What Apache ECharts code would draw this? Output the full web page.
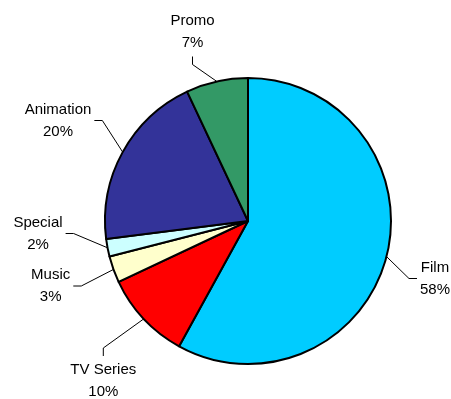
<!DOCTYPE html>
<html>
<head>
<meta charset="utf-8">
<script src="https://cdn.jsdelivr.net/npm/echarts@6/dist/echarts.min.js"></script>
<style>
  html, body { margin: 0; padding: 0; background: #ffffff; }
  #chart { width: 451px; height: 399px; }
</style>
</head>
<body>
<div id="chart"></div>
<script>
// Share of output by category (percent), clockwise from 12 o'clock
const categories = ['Film', 'TV Series', 'Music', 'Special', 'Animation', 'Promo'];
const shares = [58, 10, 3, 2, 20, 7];
const sliceColors = ['#00CCFF', '#FF0000', '#FFFFCC', '#CCFFFF', '#333399', '#339966'];

// Centre of each two-line label block and the side its leader line attaches to
const labelPlacement = {
  'Film':      { x: 435,   y: 278.5, side: 'left' },
  'TV Series': { x: 103.3, y: 381,   side: 'top' },
  'Music':     { x: 50.7,  y: 286,   side: 'right' },
  'Special':   { x: 38,    y: 233.5, side: 'right' },
  'Animation': { x: 58,    y: 120.5, side: 'right' },
  'Promo':     { x: 192.5, y: 31.5,  side: 'bottom' }
};
const LEADER_GAP = 3;     // space between text and line end
const LEADER_ELBOW = 8;   // short straight segment next to the text

const chart = echarts.init(document.getElementById('chart'), null, { renderer: 'canvas' });

const pieData = categories.map((name, i) => ({
  name: name,
  value: shares[i],
  itemStyle: { color: sliceColors[i] }
}));

chart.setOption({
  animation: false,
  backgroundColor: '#ffffff',
  series: [{
    type: 'pie',
    center: [248, 221],
    radius: 143,
    startAngle: 90,
    clockwise: true,
    avoidLabelOverlap: false,
    data: pieData,
    itemStyle: { borderColor: '#000000', borderWidth: 2 },
    emphasis: { disabled: true },
    label: {
      show: true,
      position: 'outside',
      formatter: p => p.name + '\n' + Math.round(p.percent) + '%',
      fontFamily: 'Liberation Sans, Arial, sans-serif',
      fontSize: 15,
      lineHeight: 22,
      color: '#000000',
      align: 'center'
    },
    labelLine: {
      show: true,
      length: 12,
      length2: 8,
      smooth: false,
      lineStyle: { color: '#000000', width: 1 }
    },
    labelLayout: function (params) {
      const name = categories[params.dataIndex];
      const place = labelPlacement[name];
      const w = params.labelRect.width;
      const h = params.labelRect.height;
      const start = params.labelLinePoints ? params.labelLinePoints[0] : [place.x, place.y];
      let end, elbow;
      if (place.side === 'right') {
        end = [place.x + w / 2 + LEADER_GAP, place.y];
        elbow = [end[0] + LEADER_ELBOW, place.y];
      } else if (place.side === 'left') {
        end = [place.x - w / 2 - LEADER_GAP, place.y];
        elbow = [end[0] - LEADER_ELBOW, place.y];
      } else if (place.side === 'bottom') {
        end = [place.x, place.y + h / 2 + LEADER_GAP];
        elbow = [place.x, end[1] + LEADER_ELBOW];
      } else {
        end = [place.x, place.y - h / 2 - LEADER_GAP];
        elbow = [place.x, end[1] - LEADER_ELBOW];
      }
      return {
        x: place.x,
        y: place.y,
        align: 'center',
        verticalAlign: 'middle',
        labelLinePoints: [start, elbow, end]
      };
    }
  }]
});
</script>
</body>
</html>
